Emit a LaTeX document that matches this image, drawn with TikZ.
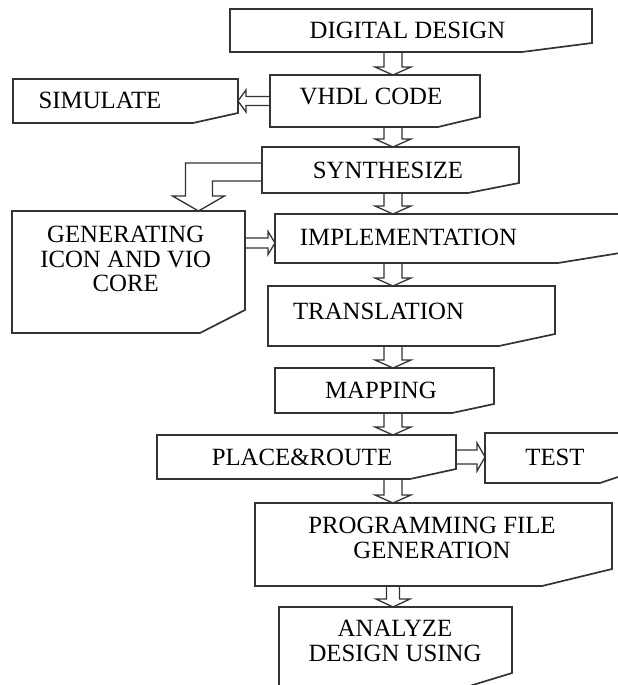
\documentclass[tikz,border=0pt]{standalone}
\usepackage{fontspec}
\setmainfont{Liberation Serif}
\usetikzlibrary{calc}

\tikzset{
	box/.style={rectangle, inner sep=0pt, outer sep=0pt},
	boxline/.style={line width=1.7pt, draw=black!80, line join=miter},
	arrline/.style={line width=1.3pt, draw=black!80, line join=miter},
	txt/.style={inner sep=0pt, align=center, font=\fontsize{24.8}{24.5}\selectfont}
}

% Blockpfeil: Start, Spitze, halbe Schaftbreite, halbe Kopfbreite, Kopflaenge
\newcommand{\hollowarrow}[5]{%
	\coordinate (ha-s) at #1;
	\coordinate (ha-t) at #2;
	\coordinate (ha-h) at ($(ha-t)!#5!(ha-s)$);
	\draw[arrline] ($(ha-s)!#3!90:(ha-t)$) -- ($(ha-h)!#3!-90:(ha-s)$)
		-- ($(ha-h)!#4!-90:(ha-s)$) -- (ha-t) -- ($(ha-h)!#4!90:(ha-s)$)
		-- ($(ha-h)!#3!90:(ha-s)$) -- ($(ha-s)!#3!-90:(ha-t)$);
}

\begin{document}
\begin{tikzpicture}[x=1pt, y=-1pt]
	\useasboundingbox (0,0) rectangle (618,685);
	\clip (0,0) rectangle (618,685);

	% Kaesten
	\node[box, minimum width=362pt, minimum height=43pt] (design) at (411,30.5) {};
	\node[box, minimum width=210pt, minimum height=52pt] (vhdl) at (375,101) {};
	\node[box, minimum width=225pt, minimum height=44pt] (sim) at (125.5,101) {};
	\node[box, minimum width=257pt, minimum height=46pt] (synth) at (390.5,170) {};
	\node[box, minimum width=233pt, minimum height=122pt] (gen) at (128.5,272) {};
	\node[box, minimum width=345pt, minimum height=49pt] (impl) at (447.5,238.5) {};
	\node[box, minimum width=287pt, minimum height=60pt] (trans) at (411.5,316) {};
	\node[box, minimum width=219pt, minimum height=45pt] (map) at (384.5,390.5) {};
	\node[box, minimum width=299pt, minimum height=44pt] (route) at (306.5,457) {};
	\node[box, minimum width=145pt, minimum height=50pt] (test) at (557.5,458) {};
	\node[box, minimum width=357pt, minimum height=83pt] (prog) at (433.5,544.5) {};
	\node[box, minimum width=233pt, minimum height=85pt] (ana) at (395.5,649.5) {};

	% Umrisse mit abgeschraegter Ecke
	\foreach \n/\dx/\dy in {design/70/9, vhdl/42/10, sim/45/10, synth/51/10,
		gen/45/23, impl/62/10, trans/56/12, map/42/9, route/46/10, test/30/10,
		prog/70/17, ana/62/19}
		\draw[boxline] (\n.north west) -- (\n.north east)
			-- ([yshift=\dy pt]\n.south east) -- ([xshift=-\dx pt]\n.south east)
			-- (\n.south west) -- cycle;

	% Beschriftungen
	\node[txt] (design-t) at (407.5,30) {DIGITAL DESIGN};
	\node[txt] (vhdl-t) at (371,96) {VHDL CODE};
	\node[txt] (sim-t) at (100,100.5) {SIMULATE};
	\node[txt] (synth-t) at (388,170) {SYNTHESIZE};
	\node[txt] (gen-t) at (125.7,259) {GENERATING\\ICON AND VIO\\CORE};
	\node[txt] (impl-t) at (408.5,237.5) {IMPLEMENTATION};
	\node[txt] (trans-t) at (378.5,311) {TRANSLATION};
	\node[txt] (map-t) at (381,390) {MAPPING};
	\node[txt] (route-t) at (302,457) {PLACE\&ROUTE};
	\node[txt] (test-t) at (555,457) {TEST};
	\node[txt] (prog-t) at (432,538) {PROGRAMMING FILE\\GENERATION};
	\node[txt] (ana-t) at (395,641) {ANALYZE\\DESIGN USING};

	% Pfeile senkrecht
	\coordinate (axis) at (393,0);
	\hollowarrow{(design.south -| axis)}{(vhdl.north -| axis)}{9pt}{18pt}{8pt}
	\hollowarrow{(vhdl.south -| axis)}{(synth.north -| axis)}{9pt}{18pt}{8pt}
	\hollowarrow{(synth.south -| axis)}{(impl.north -| axis)}{9pt}{18pt}{8pt}
	\hollowarrow{(impl.south -| axis)}{(trans.north -| axis)}{9pt}{18pt}{8pt}
	\hollowarrow{(trans.south -| axis)}{(map.north -| axis)}{9pt}{18pt}{8pt}
	\hollowarrow{(map.south -| axis)}{(route.north -| axis)}{9pt}{18pt}{8pt}
	\hollowarrow{(route.south -| axis)}{(prog.north -| axis)}{9pt}{18pt}{8pt}
	\hollowarrow{(prog.south -| axis)}{(ana.north -| axis)}{6.5pt}{17pt}{8pt}

	% Pfeile waagrecht
	\hollowarrow{(vhdl.west)}{(sim.east)}{4.5pt}{11pt}{8pt}
	\hollowarrow{($(impl.west -| gen.east)+(0,4.5)$)}{($(impl.west)+(0,4.5)$)}{5pt}{11.5pt}{7pt}
	\hollowarrow{(route.east)}{(test.west |- route.east)}{7pt}{14pt}{8pt}

	% Knickpfeil
	\coordinate (bend) at ([xshift=70pt]gen.north);
	\draw[arrline] ([yshift=7pt]synth.west) -| ([xshift=-13pt, yshift=15pt]bend)
		-- ([xshift=-26pt, yshift=15pt]bend) -- (bend)
		-- ([xshift=26pt, yshift=15pt]bend) -- ([xshift=14pt, yshift=15pt]bend)
		|- ([yshift=-11pt]synth.west);
\end{tikzpicture}
\end{document}
